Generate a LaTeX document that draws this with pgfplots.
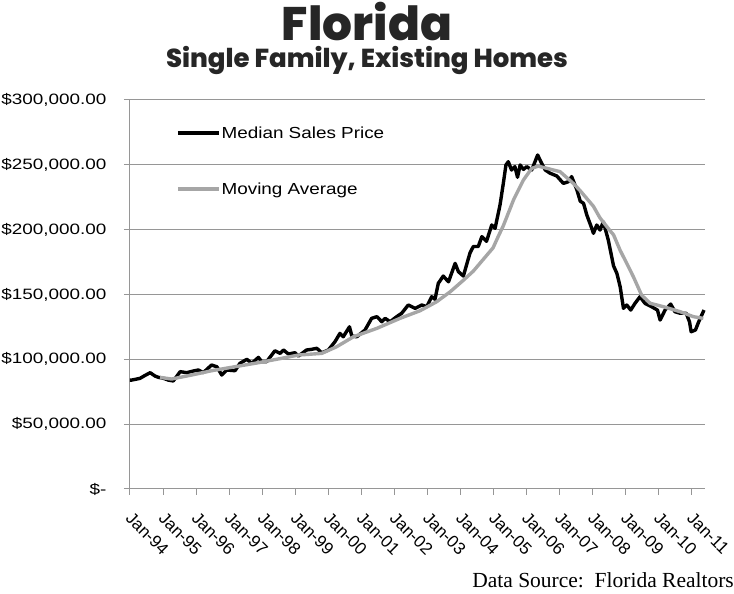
\documentclass[border=0pt]{standalone}
\usepackage{pgfplots}
\pgfplotsset{compat=1.18}
\usepackage{fontspec}
\usepackage{graphicx}
\setmainfont{Liberation Sans}
\newfontfamily\titlefont{Poppins ExtraBold}
\newfontfamily\srcfont{Liberation Serif}
\definecolor{gridgray}{RGB}{150,150,150}
\definecolor{magray}{RGB}{166,166,166}
\newcommand\sx[1]{\scalebox{1.26}[1]{#1}}
\newcommand\lx[1]{\scalebox{1.18}[1]{#1}}

\pgfplotstableread{
t v
0.00 84
0.05 84
0.30 85.3
0.45 87.5
0.61 89.7
0.76 87.1
0.86 86.1
1.00 85.5
1.16 84.0
1.31 83.3
1.42 87
1.52 90.5
1.72 89.7
1.92 91
2.07 91.8
2.22 89.7
2.47 95.6
2.63 94.3
2.78 87.9
2.93 91.8
3.18 91.2
3.33 96.9
3.54 100
3.69 96.9
3.89 101.5
3.99 98.2
4.14 98.2
4.39 106.6
4.55 104.6
4.65 107.2
4.80 104.1
5.00 105.1
5.10 102.5
5.35 107.2
5.50 107.7
5.66 108.5
5.81 105.0
6.01 107.2
6.21 113.6
6.36 120
6.46 117.4
6.65 125.1
6.72 118
6.87 117.4
7.12 122.6
7.32 131.6
7.48 132.9
7.63 129
7.73 131.6
7.88 129
8.08 132.9
8.23 135.5
8.43 141.9
8.64 139.3
8.84 141.9
8.99 140.6
9.14 148.3
9.24 146.3
9.34 158.6
9.49 164.2
9.65 159.8
9.85 174
9.95 167.6
10.10 164.2
10.30 182
10.40 187
10.55 187
10.66 194.6
10.80 191
10.96 203.6
11.06 201
11.21 219
11.31 235.7
11.39 249.9
11.46 252.4
11.56 246
11.66 248.6
11.74 240.4
11.82 249.9
11.92 246.5
12.02 248.6
12.17 246
12.27 252.4
12.35 257.6
12.47 251.2
12.58 246
12.73 243.5
12.93 241.4
13.13 235.7
13.28 237
13.38 240.9
13.54 230.6
13.64 222
13.74 220.3
13.84 211.3
13.99 201
14.04 197.2
14.14 203.6
14.24 199.7
14.34 206.1
14.49 192
14.65 172
14.75 166.3
14.85 156
14.95 139.3
15.05 141.9
15.17 138
15.30 143.2
15.45 148.3
15.60 143.2
15.80 140.6
15.98 138
16.06 130.3
16.21 138
16.38 142.6
16.51 136.7
16.67 135.5
16.85 135.5
16.95 129
17.00 121.3
17.13 122.6
17.23 129
17.39 138
}\median

\pgfplotstableread{
t v
0.91 86.1
1.26 84.8
1.87 87.9
2.47 91.2
3.18 94.3
3.89 97.4
4.60 100.8
5.10 103.3
5.81 104.6
6.26 109.7
6.77 117.4
7.48 123.9
8.18 131.6
8.79 137.5
9.29 144.4
9.70 152.1
10.10 161
10.40 168
10.60 174
11.00 186
11.16 195
11.31 203
11.62 223
11.92 238.3
12.17 247.3
12.37 249
12.63 247.3
13.03 244.7
13.43 235.7
13.64 230
13.84 224
14.04 218
14.24 209
14.55 199
14.65 196
14.85 184
15.05 174
15.25 163.7
15.50 149.5
15.76 143.2
16.16 140.6
16.67 136.7
17.07 132.9
17.37 131.6
}\movavg

\begin{document}
\begin{tikzpicture}
\useasboundingbox (-130pt,-105pt) rectangle (604pt,489pt);
\begin{axis}[
  at={(0pt,0pt)}, anchor=south west,
  scale only axis, width=575pt, height=389pt,
  xmin=0, xmax=17.42, ymin=0, ymax=300,
  axis x line*=bottom, axis y line*=left,
  axis line style={gridgray, line width=1pt},
  xtick={0,1,...,17},
  xticklabels={Jan-94,Jan-95,Jan-96,Jan-97,Jan-98,Jan-99,Jan-00,Jan-01,Jan-02,Jan-03,Jan-04,Jan-05,Jan-06,Jan-07,Jan-08,Jan-09,Jan-10,Jan-11},
  ytick={0,50,...,300},
  yticklabels={\sx{\$-}\hspace{11pt},\sx{\$50,000.00},\sx{\$100,000.00},\sx{\$150,000.00},\sx{\$200,000.00},\sx{\$250,000.00},\sx{\$300,000.00}},
  ymajorgrids, grid style={gridgray, line width=1pt},
  tick style={gridgray, line width=1pt},
  tick align=outside, major tick length=6pt,
  xticklabel style={rotate=-45, anchor=north west, inner sep=0pt, font=\fontsize{17}{17}\selectfont, xshift=13.6pt, yshift=-8.9pt},
  yticklabel style={anchor=east, font=\fontsize{15}{15}\selectfont, xshift=-14pt},
  legend style={draw=none, fill=none, at={(0.08,0.935)}, anchor=north west,
    font=\fontsize{16}{16}\selectfont, row sep=41pt, inner sep=0pt,
    nodes={inner sep=1pt}},
  legend cell align=left,
  legend image code/.code={\draw[#1] (0pt,0pt) -- (41pt,0pt);},
  clip=false,
]
\addplot[black, line width=3.4pt, line join=round] table[x=t,y=v] {\median};
\addlegendentry{\lx{Median Sales Price}}
\addplot[magray, line width=3.4pt, line join=round] table[x=t,y=v] {\movavg};
\addlegendentry{\lx{Moving Average}}
\end{axis}
\node[anchor=base, font=\titlefont\fontsize{47}{47}\selectfont, text=black!85] at (237pt,448pt) {Florida};
\node[anchor=base, font=\titlefont\fontsize{26}{26}\selectfont, text=black!85] at (237pt,421pt) {Single Family, Existing Homes};
\node[anchor=base east, font=\srcfont\fontsize{21.5}{21.5}\selectfont, inner sep=0pt] at (604pt,-99pt) {Data Source:\ \ Florida Realtors};
\end{tikzpicture}
\end{document}
